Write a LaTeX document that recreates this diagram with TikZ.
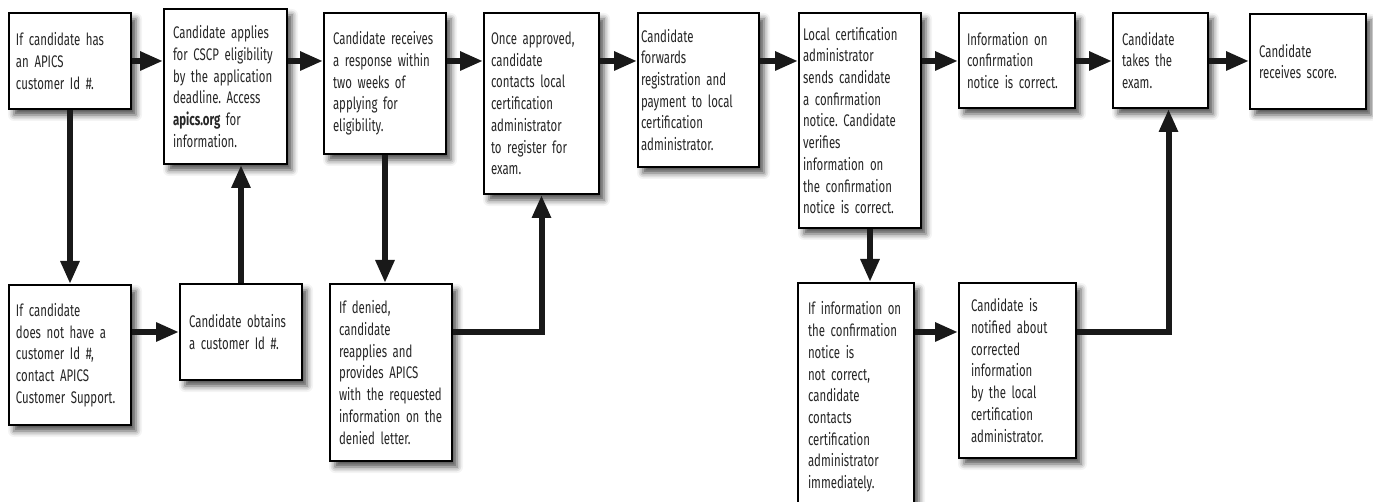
\documentclass[tikz,border=0pt]{standalone}
\usepackage{fontspec}
\setmainfont{Fira Sans}[FakeStretch=0.68]
\usetikzlibrary{shapes,arrows.meta,shadows.blur,positioning}
\frenchspacing

\begin{document}
\begin{tikzpicture}[x=0.5pt, y=-0.5pt]
		\tikzstyle{Step}	= [draw, line width=1pt, fill=white, anchor=north west, align=left, inner xsep=4.5pt, inner ysep=0pt, font=\fontsize{8.4}{10.85}\selectfont, text=black!85, blur shadow={shadow xshift=2.5pt, shadow yshift=-3pt, shadow blur radius=3pt, shadow opacity=70}]
		\tikzstyle{Flow}	= [line width=3pt, black!90, -{Triangle[length=11.5pt, width=9pt]}]

		\useasboundingbox (0, 0) rectangle (1373, 502);

		\node (s1) at (8, 12) [Step, inner xsep=3.5pt, text width=54pt, minimum height=48pt] {If candidate has\\an APICS\\customer Id \#.};
		\node (s2) at (163, 8) [Step, text width=52.5pt, minimum height=77.5pt] {Candidate applies\\for CSCP eligibility\\by the application\\deadline. Access\\\textbf{apics.org} for\\information.};
		\node (s3) at (323, 12) [Step, text width=52pt, minimum height=70.5pt] {Candidate receives\\a response within\\two weeks of\\applying for\\eligibility.};
		\node (s4) at (483, 12) [Step, inner xsep=3.5pt, text width=50.5pt, minimum height=90.5pt] {Once approved,\\candidate\\contacts local\\certification\\administrator\\to register for\\exam.};
		\node (s5) at (637, 12) [Step, inner xsep=1.5pt, text width=57.5pt, minimum height=77pt] {Candidate\\forwards\\registration and\\payment to local\\certification\\administrator.};
		\node (s6) at (798, 12) [Step, inner xsep=2pt, text width=57pt, minimum height=107.5pt] {Local certification\\administrator\\sends candidate\\a confirmation\\notice. Candidate\\verifies\\information on\\the confirmation\\notice is correct.};
		\node (s7) at (958, 12) [Step, inner xsep=4pt, text width=50pt, minimum height=47.5pt] {Information on\\confirmation\\notice is correct.};
		\node (s8) at (1112, 12) [Step, text width=38.5pt, minimum height=47.5pt] {Candidate\\takes the\\exam.};
		\node (s9) at (1249, 13) [Step, text width=49pt, minimum height=47.5pt] {Candidate\\receives score.};

		\node (b1) at (8, 284) [Step, inner xsep=3.5pt, text width=54pt, minimum height=70pt] {If candidate\\does not have a\\customer Id \#,\\contact APICS\\Customer Support.};
		\node (b2) at (179, 283) [Step, text width=52pt, minimum height=48pt] {Candidate obtains\\a customer Id \#.};
		\node (b3) at (329, 283) [Step, text width=52pt, minimum height=88.5pt] {If denied,\\candidate\\reapplies and\\provides APICS\\with the requested\\information on the\\denied letter.};
		\node (b4) at (797, 282) [Step, inner xsep=5pt, text width=48pt, minimum height=114pt] {If information on\\the confirmation\\notice is\\not correct,\\candidate\\contacts\\certification\\administrator\\immediately.};
		\node (b5) at (958, 282) [Step, inner xsep=6pt, text width=46.5pt, minimum height=87.5pt] {Candidate is\\notified about\\corrected\\information\\by the local\\certification\\administrator.};

		\draw [Flow] (s1.east) -- (s1.east -| s2.west);
		\draw [Flow] (s2.east |- s1.east) -- (s3.west |- s1.east);
		\draw [Flow] (s3.east |- s1.east) -- (s4.west |- s1.east);
		\draw [Flow] (s4.east |- s1.east) -- (s5.west |- s1.east);
		\draw [Flow] (s5.east |- s1.east) -- (s6.west |- s1.east);
		\draw [Flow] (s6.east |- s1.east) -- (s7.west |- s1.east);
		\draw [Flow] (s7.east |- s1.east) -- (s8.west |- s1.east);
		\draw [Flow] (s8.east |- s1.east) -- (s9.west |- s1.east);

		\draw [Flow] (s1.south) -- (b1.north);
		\draw [Flow] (b1.east |- b2.west) -- (b2.west);
		\draw [Flow] (b2.north) -- (b2.north |- s2.south);
		\draw [Flow] (s3.south) -- (s3.south |- b3.north);
		\draw [Flow] (b3.east |- b2.west) -| (s4.south);
		\draw [Flow] ([xshift=5pt]s6.south) -- ([xshift=5pt]s6.south |- b4.north);
		\draw [Flow] (b4.east |- b2.west) -- (b5.west |- b2.west);
		\draw [Flow] (b5.east |- b2.west) -| ([xshift=4pt]s8.south);
\end{tikzpicture}
\end{document}
